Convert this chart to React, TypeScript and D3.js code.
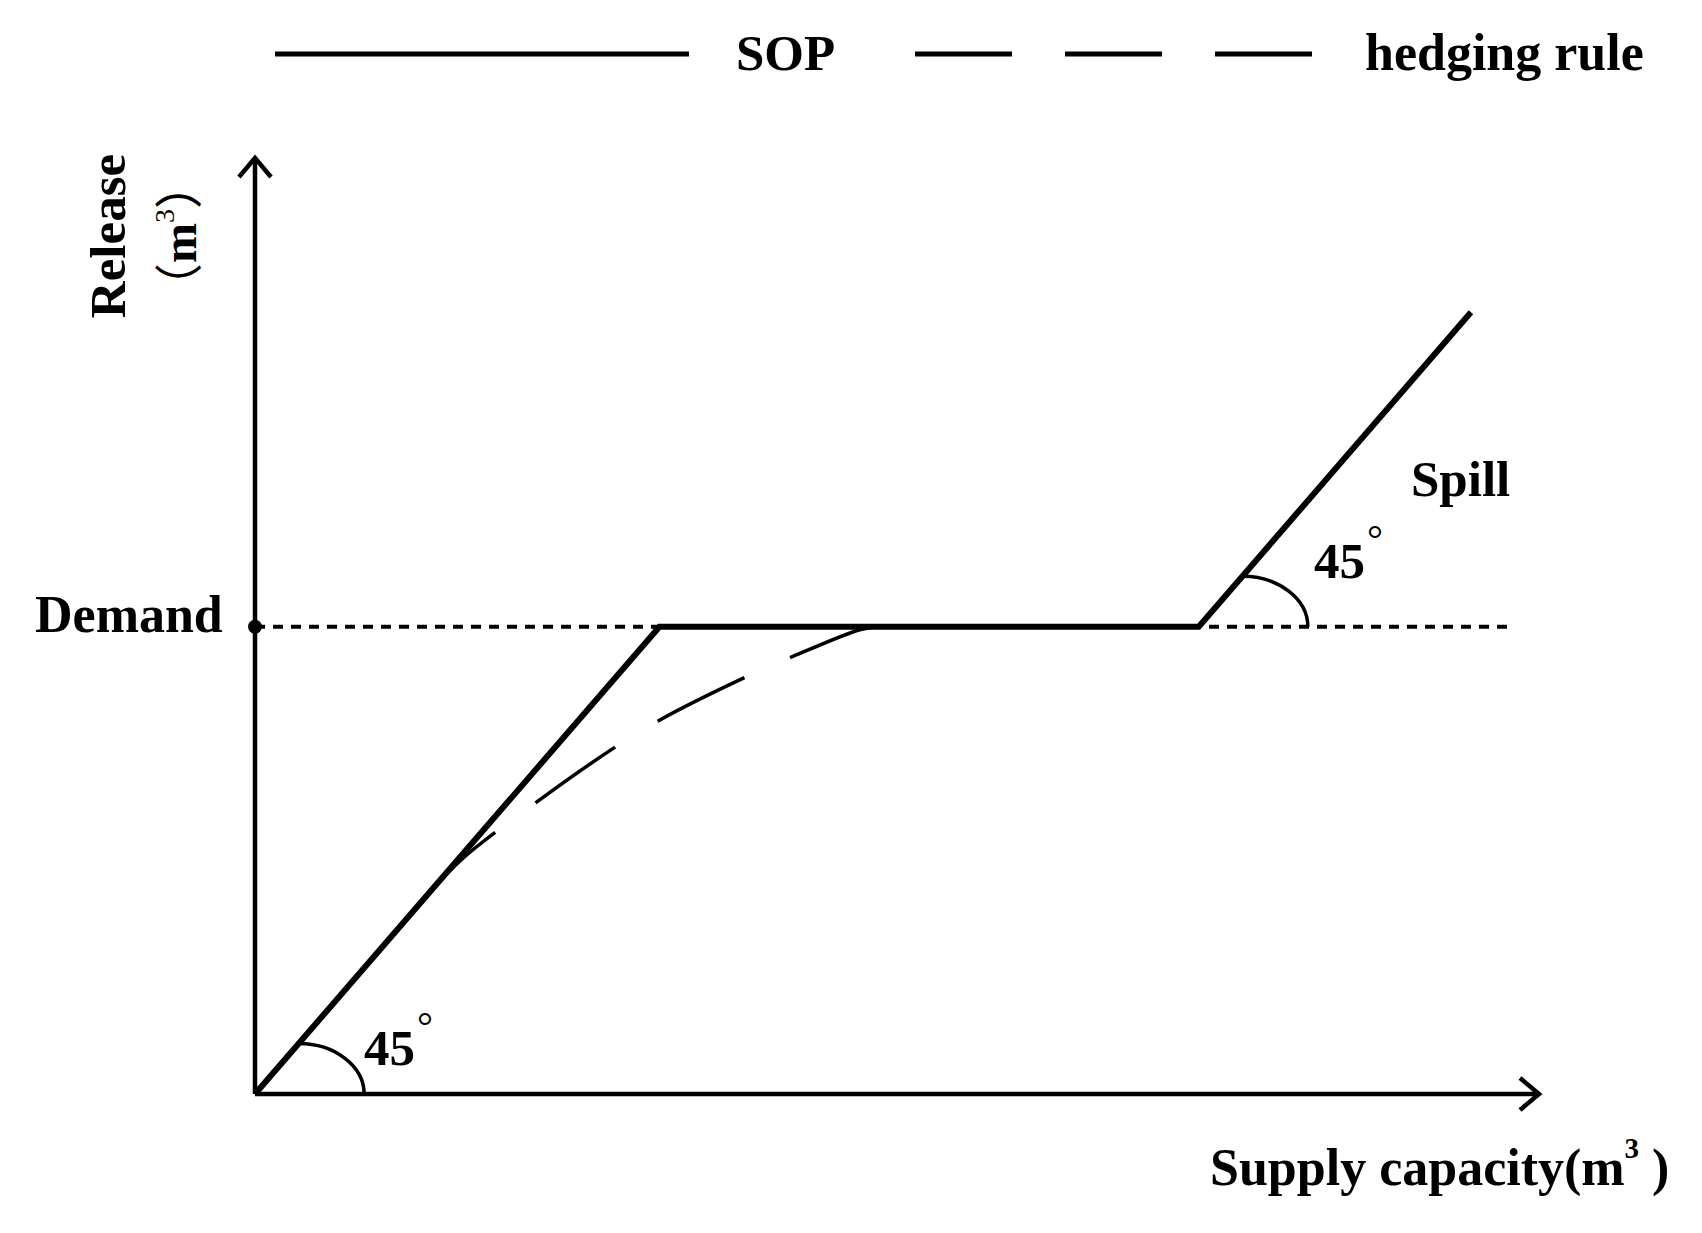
import React from "react";
import * as d3 from "d3";

const W = 1702;
const H = 1233;

// Schematic data (arbitrary units)
const demand = 31.5;
const xMax = 100;
const yMax = 63.1;
const sopX = [0, 31.5, 73.5, 94.7];
const sopY = [0, 31.5, 31.5, 52.7];
const hedgeX = [13.5, 16.2, 21.8, 27.9, 31.5, 38.2, 41.9, 47.1, 48.5];
const hedgeY = [13.5, 15.9, 19.6, 23.3, 25.2, 28.1, 29.5, 31.3, 31.5];
const demandLineEnd = 97.7;
const angleCorners: [number, number][] = [[0, 0], [73.5, 31.5]];
const legendLabels = ["SOP", "hedging rule"];

const FONT = "'Liberation Serif', 'Times New Roman', serif";

export default function App() {
  const x = d3.scaleLinear().domain([0, xMax]).range([255, 1539]);
  const y = d3.scaleLinear().domain([0, yMax]).range([1094, 158]);

  const line = d3
    .line<[number, number]>()
    .x((d) => x(d[0]))
    .y((d) => y(d[1]));
  const curve = d3
    .line<[number, number]>()
    .x((d) => x(d[0]))
    .y((d) => y(d[1]))
    .curve(d3.curveCatmullRom);

  const sop = sopX.map((v, i) => [v, sopY[i]] as [number, number]);
  const hedge = hedgeX.map((v, i) => [v, hedgeY[i]] as [number, number]);

  const arcPath = (c: [number, number]) => {
    const x1 = x(c[0] + 3.4);
    const y1 = y(c[1] + 3.4);
    const x2 = x(c[0] + 8.5);
    const y2 = y(c[1]);
    return `M${x1},${y1} A${x2 - x1},${y2 - y1} 0 0 1 ${x2},${y2}`;
  };

  const x0 = x(0);
  const y0 = y(0);
  const yTop = y(yMax);
  const xRight = x(xMax);

  return (
    <svg
      width={W}
      height={H}
      style={{ position: "absolute", left: 0, top: 0, background: "#fff" }}
      fontFamily={FONT}
    >
      <rect width={W} height={H} fill="#fff" />
      {/* Legend */}
      <line x1={275} x2={689} y1={54} y2={54} stroke="#000" strokeWidth={5} />
      <text x={736} y={70} fontSize={51} fontWeight="bold">
        {legendLabels[0]}
      </text>
      <line
        x1={915}
        x2={1313}
        y1={54}
        y2={54}
        stroke="#000"
        strokeWidth={5}
        strokeDasharray="97,53"
      />
      <text x={1365} y={70} fontSize={52} fontWeight="bold">
        {legendLabels[1]}
      </text>

      {/* Demand dotted line */}
      <line
        x1={x0}
        x2={x(demandLineEnd)}
        y1={y(demand)}
        y2={y(demand)}
        stroke="#000"
        strokeWidth={4}
        strokeDasharray="10,8"
      />

      {/* Axes */}
      <line x1={x0} x2={x0} y1={y0} y2={yTop} stroke="#000" strokeWidth={4.5} />
      <line x1={x0} x2={xRight} y1={y0} y2={y0} stroke="#000" strokeWidth={4.5} />
      <path
        d={`M${x0 - 16},${yTop + 19} L${x0},${yTop} L${x0 + 16},${yTop + 19}`}
        fill="none"
        stroke="#000"
        strokeWidth={4.5}
      />
      <path
        d={`M${xRight - 19},${y0 - 16} L${xRight},${y0} L${xRight - 19},${y0 + 16}`}
        fill="none"
        stroke="#000"
        strokeWidth={4.5}
      />
      <circle cx={x0} cy={y(demand)} r={7} fill="#000" />

      {/* Hedging rule */}
      <path
        d={curve(hedge) || ""}
        fill="none"
        stroke="#000"
        strokeWidth={3.5}
        strokeDasharray="97,50"
        strokeDashoffset={6}
      />

      {/* SOP */}
      <path
        d={line(sop) || ""}
        fill="none"
        stroke="#000"
        strokeWidth={6}
        strokeLinejoin="miter"
      />

      {/* Angle arcs */}
      {angleCorners.map((c, i) => (
        <path key={i} d={arcPath(c)} fill="none" stroke="#000" strokeWidth={3.5} />
      ))}

      {/* Angle labels */}
      <text x={364} y={1065} fontSize={51} fontWeight="bold">
        45
        <tspan fontSize={40} fontWeight="normal" dx={2} dy={-25}>
          °
        </tspan>
      </text>
      <text x={1314} y={578} fontSize={51} fontWeight="bold">
        45
        <tspan fontSize={40} fontWeight="normal" dx={2} dy={-25}>
          °
        </tspan>
      </text>

      {/* Spill */}
      <text x={1411} y={496} fontSize={51} fontWeight="bold">
        Spill
      </text>

      {/* Demand label */}
      <text x={35} y={632} fontSize={52} fontWeight="bold">
        Demand
      </text>

      {/* Y label */}
      <text
        transform="translate(125,236) rotate(-90)"
        textAnchor="middle"
        fontSize={51}
        fontWeight="bold"
      >
        Release
      </text>
      <text
        transform="translate(196,236) rotate(-90)"
        textAnchor="middle"
        fontSize={48}
      >
        <tspan fontFamily="'Noto Sans CJK SC'">（</tspan>
        <tspan fontWeight="bold">m</tspan>
        <tspan fontSize={28} dy={-22}>
          3
        </tspan>
        <tspan fontFamily="'Noto Sans CJK SC'" dy={22}>
          ）
        </tspan>
      </text>

      {/* X label */}
      <text x={1210} y={1185} fontSize={52} fontWeight="bold">
        Supply capacity(m
        <tspan fontSize={29} dy={-27}>
          3
        </tspan>
        <tspan dy={27}> )</tspan>
      </text>
    </svg>
  );
}
